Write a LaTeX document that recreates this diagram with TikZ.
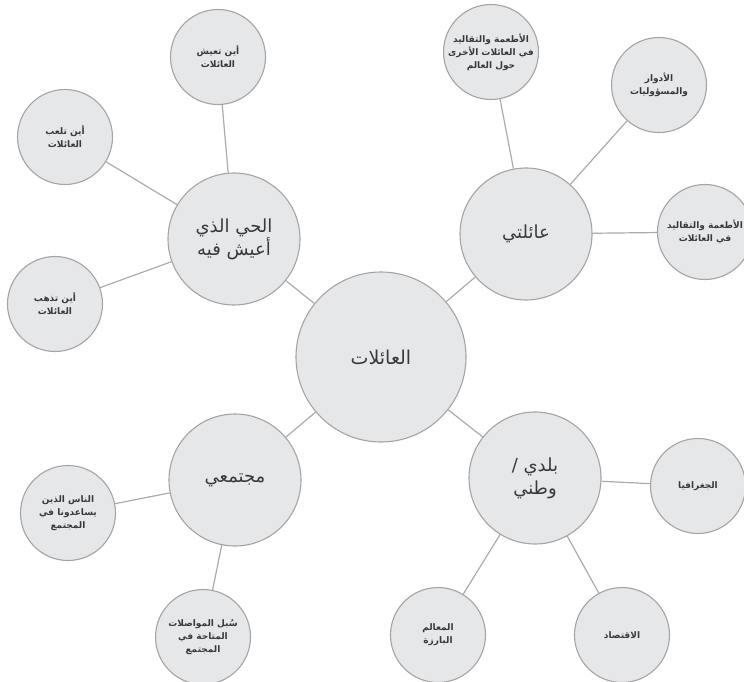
\documentclass[tikz,border=0pt]{standalone}
\usepackage{fontspec}
\newfontfamily\arabicfont[Script=Arabic]{DejaVu Sans}
\TeXXeTstate=1
\definecolor{bubblefill}{HTML}{E6E7E9}
\definecolor{bubbleline}{HTML}{A4A4A6}
\definecolor{linkgray}{HTML}{ABABAB}
\definecolor{inkgray}{HTML}{38393B}
\newcommand{\ar}[1]{\beginR #1\endR}

\begin{document}
\begin{tikzpicture}[x=1pt,y=-1pt]
    \tikzstyle{bubble}=[draw=bubbleline,fill=bubblefill,line width=1.1pt,circle,inner sep=0pt,align=center,text=inkgray];
    \tikzstyle{hub}=[bubble,minimum size=170pt,font=\arabicfont\fontsize{19}{23}\selectfont];
    \tikzstyle{topic}=[bubble,minimum size=132pt,font=\arabicfont\fontsize{18}{23}\selectfont];
    \tikzstyle{leaf}=[bubble,minimum size=95pt,font=\arabicfont\bfseries\fontsize{9}{13}\selectfont];
    \tikzstyle{link}=[draw=linkgray,line width=1.2pt];
    \useasboundingbox (0,0) rectangle (744,682);

    % links first, bubbles on top
    \coordinate (pfam) at (381,357);
    \coordinate (phood) at (234,239);
    \coordinate (pmine) at (526,234);
    \coordinate (pcomm) at (235,480);
    \coordinate (phome) at (535,478);

    \node (fam) [hub] at (pfam) {\ar{العائلات}};
    \node (hood) [topic] at (phood) {\ar{الحي الذي}\\\ar{أعيش فيه}};
    \node (mine) [topic] at (pmine) {\ar{عائلتي}};
    \node (comm) [topic] at (pcomm) {\ar{مجتمعي}};
    \node (home) [topic] at (phome) {\ar{بلدي /}\\\ar{وطني}};

    \node (live) [leaf] at (218,57) {\ar{أين تعيش}\\\ar{العائلات}};
    \node (play) [leaf] at (65,137) {\ar{أين تلعب}\\\ar{العائلات}};
    \node (go) [leaf] at (55,304) {\ar{أين تذهب}\\\ar{العائلات}};
    \node (world) [leaf] at (491,52) {\ar{الأطعمة والتقاليد}\\\ar{في العائلات الأخرى}\\\ar{حول العالم}};
    \node (roles) [leaf] at (659,85) {\ar{الأدوار}\\\ar{والمسؤوليات}};
    \node (food) [leaf] at (705,232) {\ar{الأطعمة والتقاليد}\\\ar{في العائلات}};
    \node (geo) [leaf] at (698,486) {\ar{الجغرافيا}};
    \node (econ) [leaf] at (622,635) {\ar{الاقتصاد}};
    \node (marks) [leaf] at (438,635) {\ar{المعالم}\\\ar{البارزة}};
    \node (ways) [leaf] at (203,637) {\ar{سُبل المواصلات}\\\ar{المتاحة في}\\\ar{المجتمع}};
    \node (helpers) [leaf] at (68,513) {\ar{الناس الذين}\\\ar{يساعدونا في}\\\ar{المجتمع}};

    \foreach \j in {hood,mine,comm,home}{
        \draw [link] (fam) -- (\j);
    }

    \foreach \i/\j in {hood/live,hood/play,hood/go,mine/world,mine/roles,mine/food,home/geo,home/econ,home/marks,comm/ways,comm/helpers}{
        \draw [link] (\i) -- (\j);
    }

\end{tikzpicture}
\end{document}
